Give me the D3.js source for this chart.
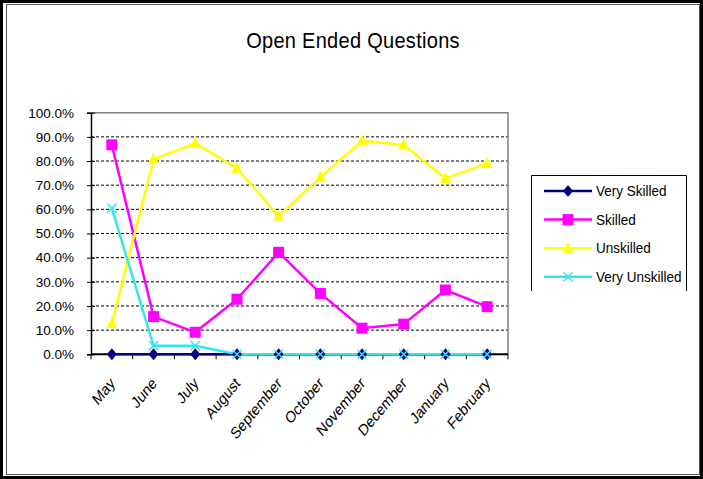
<!DOCTYPE html>
<html>
<head>
<meta charset="utf-8">
<script src="https://cdn.jsdelivr.net/npm/d3@7"></script>
<style>
  body { margin: 0; background: #fff; }
  svg { display: block; font-family: "Liberation Sans", Arial, sans-serif; }
</style>
</head>
<body>
<div id="chart"></div>
<script>
const months = ["May", "June", "July", "August", "September", "October", "November", "December", "January", "February"];
const verySkilled = [0, 0, 0, 0, 0, 0, 0, 0, 0, 0];
const skilled = [86.7, 15.6, 9.1, 22.8, 42.2, 25.2, 10.8, 12.5, 26.6, 19.7];
const unskilled = [12.8, 80.7, 87.3, 77.0, 57.2, 73.3, 88.4, 86.6, 72.8, 79.0];
const veryUnskilled = [60.4, 3.5, 3.5, 0, 0, 0, 0, 0, 0, 0];
const yTicks = [0, 10, 20, 30, 40, 50, 60, 70, 80, 90, 100];

const series = [
  { name: "Very Skilled", values: verySkilled, color: "#000080", marker: "diamond" },
  { name: "Skilled", values: skilled, color: "#ff00ff", marker: "square" },
  { name: "Unskilled", values: unskilled, color: "#ffff00", marker: "triangle" },
  { name: "Very Unskilled", values: veryUnskilled, color: "#33e6ee", marker: "x" }
];

const width = 703, height = 479;
const plot = { left: 91, right: 508, top: 112.7, bottom: 354.3 };

const svg = d3.select("#chart").append("svg")
  .attr("width", width)
  .attr("height", height);

// outer frame
svg.append("rect")
  .attr("x", 1.5).attr("y", 1.5)
  .attr("width", width - 3).attr("height", height - 3)
  .attr("fill", "#fff").attr("stroke", "#000").attr("stroke-width", 3);
svg.append("rect")
  .attr("x", 6.5).attr("y", 4.5)
  .attr("width", width - 10).attr("height", height - 9)
  .attr("fill", "none").attr("stroke", "#555").attr("stroke-width", 1);

svg.append("text")
  .attr("transform", "translate(353,48) scale(1,1.08)")
  .attr("text-anchor", "middle")
  .attr("font-size", 20)
  .attr("letter-spacing", 0.3)
  .text("Open Ended Questions");

const x = d3.scaleBand()
  .domain(months)
  .range([plot.left, plot.right]);
const cx = d => x(d) + x.bandwidth() / 2;

const y = d3.scaleLinear()
  .domain([0, 100])
  .range([plot.bottom, plot.top]);

// gridlines
svg.append("g")
  .selectAll("line")
  .data(yTicks.filter(t => t > 0 && t < 100))
  .join("line")
  .attr("x1", plot.left).attr("x2", plot.right)
  .attr("y1", d => y(d)).attr("y2", d => y(d))
  .attr("stroke", "#000")
  .attr("stroke-width", 1)
  .attr("stroke-dasharray", "3,2");

// plot border top and right
svg.append("path")
  .attr("d", `M${plot.left},${y(100)}H${plot.right}V${plot.bottom}`)
  .attr("fill", "none")
  .attr("stroke", "#808080")
  .attr("stroke-width", 1.5);

// y axis
const yAxis = svg.append("g")
  .attr("transform", `translate(${plot.left},0)`)
  .call(d3.axisLeft(y).tickValues(yTicks).tickSize(4).tickPadding(13)
    .tickFormat(d => d.toFixed(1) + "%"));
yAxis.select(".domain").attr("stroke", "#000").attr("stroke-width", 1.5);
yAxis.selectAll(".tick line").attr("stroke", "#000").attr("x2", -4).attr("x1", 4);
yAxis.selectAll(".tick text")
  .attr("font-size", 13.5)
  .attr("font-family", "Liberation Sans, Arial, sans-serif")
  .attr("fill", "#000");

// x axis: ticks at category boundaries
const xAxis = svg.append("g");
xAxis.append("line")
  .attr("x1", plot.left).attr("x2", plot.right)
  .attr("y1", plot.bottom).attr("y2", plot.bottom)
  .attr("stroke", "#000").attr("stroke-width", 2);
xAxis.selectAll("line.tk")
  .data(months.concat(["end"]))
  .join("line")
  .attr("class", "tk")
  .attr("x1", (d, i) => plot.left + i * x.step())
  .attr("x2", (d, i) => plot.left + i * x.step())
  .attr("y1", plot.bottom).attr("y2", plot.bottom + 5)
  .attr("stroke", "#000").attr("stroke-width", 1);
xAxis.selectAll("text")
  .data(months)
  .join("text")
  .attr("transform", d => `translate(${cx(d) + 4},${plot.bottom + 30}) scale(1,1.2) rotate(-45)`)
  .attr("text-anchor", "end")
  .attr("font-size", 13.5)
  .text(d => d);

// lines
const line = d3.line()
  .x((d, i) => cx(months[i]))
  .y(d => y(d));

svg.append("g")
  .selectAll("path")
  .data(series)
  .join("path")
  .attr("d", s => line(s.values))
  .attr("fill", "none")
  .attr("stroke", s => s.color)
  .attr("stroke-width", 2.5);

function drawMarker(g, type, color, px, py) {
  if (type === "diamond") {
    g.append("path")
      .attr("d", `M${px},${py - 6}L${px + 5},${py}L${px},${py + 6}L${px - 5},${py}Z`)
      .attr("fill", color);
  } else if (type === "square") {
    g.append("rect")
      .attr("x", px - 5.5).attr("y", py - 5.5)
      .attr("width", 11).attr("height", 11)
      .attr("fill", color);
  } else if (type === "triangle") {
    g.append("path")
      .attr("d", `M${px},${py - 6.5}L${px + 5.5},${py + 4.5}L${px - 5.5},${py + 4.5}Z`)
      .attr("fill", color);
  } else if (type === "x") {
    g.append("path")
      .attr("d", `M${px - 4.5},${py - 4.5}L${px + 4.5},${py + 4.5}M${px - 4.5},${py + 4.5}L${px + 4.5},${py - 4.5}`)
      .attr("stroke", color)
      .attr("stroke-width", 1.5);
  }
}

// markers
const markers = svg.append("g");
series.forEach(s => {
  s.values.forEach((v, i) => drawMarker(markers, s.marker, s.color, cx(months[i]), y(v)));
});

// legend
const legend = svg.append("g");
legend.append("path")
  .attr("d", "M531.5,291V175.5H686.5V291")
  .attr("fill", "none")
  .attr("stroke", "#000")
  .attr("stroke-width", 1);
series.forEach((s, i) => {
  const ly = 191 + i * 28.6;
  legend.append("line")
    .attr("x1", 544).attr("x2", 592)
    .attr("y1", ly).attr("y2", ly)
    .attr("stroke", s.color).attr("stroke-width", 2.5);
  drawMarker(legend, s.marker, s.color, 568, ly);
  legend.append("text")
    .attr("transform", `translate(596,${ly + 5}) scale(1,1.1)`)
    .attr("font-size", 13.5)
    .text(s.name);
});
</script>
</body>
</html>
